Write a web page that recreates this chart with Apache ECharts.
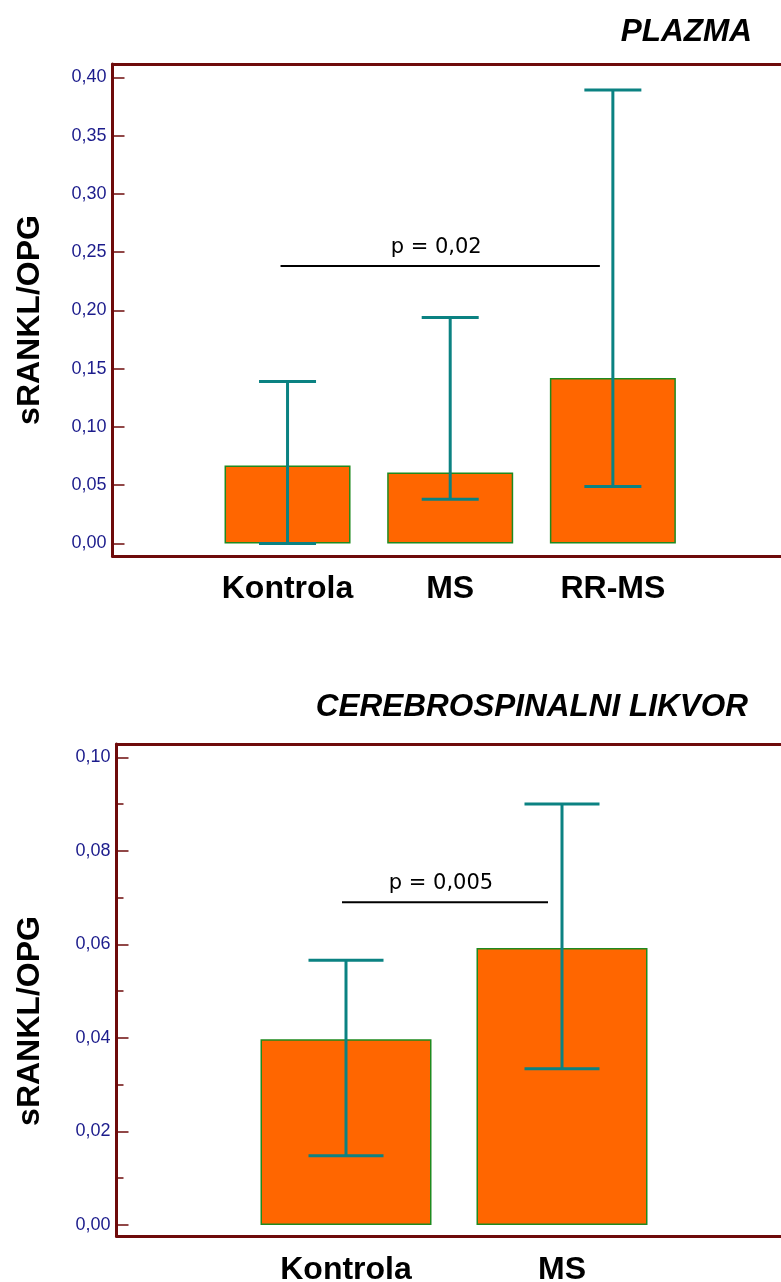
<!DOCTYPE html>
<html>
<head>
<meta charset="utf-8">
<script src="https://cdn.jsdelivr.net/npm/echarts@6/dist/echarts.min.js"></script>
<style>
  html, body { margin: 0; padding: 0; background: #fff; }
  #chart { width: 781px; height: 1282px; }
</style>
</head>
<body>
<div id="chart"></div>
<script>
// PLAZMA
var catsPlazma = ['Kontrola', 'MS', 'RR-MS'];
var meanPlazma = [0.067, 0.061, 0.142];
var lowPlazma = [0.0, 0.038, 0.049];
var highPlazma = [0.139, 0.194, 0.389];
var pPlazma = { from: 0, to: 2, y: 0.238, text: 'p = 0,02' };
var yPlazma = { min: 0, max: 0.4, step: 0.05 };

// CEREBROSPINALNI LIKVOR
var catsLikvor = ['Kontrola', 'MS'];
var meanLikvor = [0.0397, 0.0592];
var lowLikvor = [0.0148, 0.0334];
var highLikvor = [0.0566, 0.090];
var pLikvor = { from: 0, to: 1, y: 0.069, text: 'p = 0,005' };
var yLikvor = { min: 0, max: 0.1, step: 0.02 };

var frameColor = '#6e0b0b';
var teal = '#0b8282';

var chart = echarts.init(document.getElementById('chart'));

function fmt(v) {
    return v.toFixed(2).replace('.', ',');
}

// plain frame axis, only the line
function frameAxis(grid, pos) {
    return {
        type: 'value', gridIndex: grid, position: pos, min: 0, max: 1,
        axisLine: { show: true, lineStyle: { color: frameColor, width: 3 } },
        axisTick: { show: false }, axisLabel: { show: false }, splitLine: { show: false }
    };
}

function catAxis(grid, cats, margin) {
    return {
        type: 'category', gridIndex: grid, data: cats,
        axisLine: { show: false }, axisTick: { show: false }, splitLine: { show: false },
        axisLabel: { interval: 0, hideOverlap: false, margin: margin, color: '#000', fontSize: 32, fontWeight: 'bold', fontFamily: 'Liberation Sans, Arial' }
    };
}

function valAxis(grid, y, offset, minor) {
    return {
        type: 'value', gridIndex: grid, min: y.min, max: y.max, interval: y.step,
        offset: offset,
        axisLine: { show: false },
        axisTick: { show: true, inside: true, length: 12, lineStyle: { color: frameColor, width: 1.5 } },
        minorTick: { show: minor, splitNumber: 2, length: 7, lineStyle: { color: frameColor, width: 1.5 } },
        axisLabel: { formatter: fmt, margin: 6, color: '#1c1c8c', fontSize: 18, fontFamily: 'Liberation Sans, Arial' },
        splitLine: { show: false }
    };
}

function errorSeries(xi, yi, low, high, capW) {
    return {
        type: 'custom', xAxisIndex: xi, yAxisIndex: yi, z: 5,
        data: low.map(function (l, i) { return [i, l, high[i]]; }),
        renderItem: function (params, api) {
            var lo = api.coord([api.value(0), api.value(1)]);
            var hi = api.coord([api.value(0), api.value(2)]);
            var st = { stroke: teal, lineWidth: 3 };
            return {
                type: 'group', children: [
                    { type: 'line', shape: { x1: lo[0], y1: lo[1], x2: hi[0], y2: hi[1] }, style: st },
                    { type: 'line', shape: { x1: hi[0] - capW / 2, y1: hi[1], x2: hi[0] + capW / 2, y2: hi[1] }, style: st },
                    { type: 'line', shape: { x1: lo[0] - capW / 2, y1: lo[1], x2: lo[0] + capW / 2, y2: lo[1] }, style: st }
                ]
            };
        }
    };
}

function pSeries(xi, yi, p, dx1, dx2) {
    return {
        type: 'custom', xAxisIndex: xi, yAxisIndex: yi, z: 6,
        data: [[p.from, p.to, p.y]],
        renderItem: function (params, api) {
            var a = api.coord([api.value(0), api.value(2)]);
            var b = api.coord([api.value(1), api.value(2)]);
            var x1 = a[0] + dx1, x2 = b[0] + dx2;
            return {
                type: 'group', children: [
                    { type: 'line', shape: { x1: x1, y1: a[1], x2: x2, y2: a[1] }, style: { stroke: '#000', lineWidth: 2 } },
                    { type: 'text', x: (x1 + x2) / 2 - 4, y: a[1] - 8,
                      style: { text: p.text, fill: '#000', font: '21px "DejaVu Sans"', align: 'center', verticalAlign: 'bottom' } }
                ]
            };
        }
    };
}

function barSeries(xi, yi, data, w) {
    return {
        type: 'bar', xAxisIndex: xi, yAxisIndex: yi, data: data, barWidth: w, z: 3,
        itemStyle: { color: '#ff6600', borderColor: '#1f8a1f', borderWidth: 1.5 }
    };
}

var option = {
    animation: false,
    backgroundColor: '#fff',
    title: [
        { text: 'PLAZMA', right: 24, top: 11,
          textStyle: { fontSize: 31.5, fontWeight: 'bold', fontStyle: 'italic', color: '#000', fontFamily: 'Liberation Sans, Arial' } },
        { text: 'CEREBROSPINALNI LIKVOR', right: 28, top: 686,
          textStyle: { fontSize: 31.5, fontWeight: 'bold', fontStyle: 'italic', color: '#000', fontFamily: 'Liberation Sans, Arial' } }
    ],
    grid: [
        { left: 112.5, top: 64, width: 700, height: 492, outerBoundsMode: 'none' },
        { left: 206.2, top: 77.3, width: 488, height: 466.2, outerBoundsMode: 'none' },
        { left: 116.5, top: 744, width: 700, height: 492, outerBoundsMode: 'none' },
        { left: 238, top: 757.3, width: 432, height: 467.7, outerBoundsMode: 'none' }
    ],
    xAxis: [
        frameAxis(0, 'bottom'),
        frameAxis(0, 'top'),
        catAxis(1, catsPlazma, 30),
        frameAxis(2, 'bottom'),
        frameAxis(2, 'top'),
        catAxis(3, catsLikvor, 29)
    ],
    yAxis: [
        frameAxis(0, 'left'),
        valAxis(1, yPlazma, 93.7, false),
        frameAxis(2, 'left'),
        valAxis(3, yLikvor, 121.5, true)
    ],
    graphic: [
        { type: 'text', x: 30, y: 320, rotation: Math.PI / 2,
          style: { text: 'sRANKL/OPG', fill: '#000', font: 'bold 32px "Liberation Sans", Arial', align: 'center', verticalAlign: 'middle' } },
        { type: 'text', x: 30, y: 1021, rotation: Math.PI / 2,
          style: { text: 'sRANKL/OPG', fill: '#000', font: 'bold 32px "Liberation Sans", Arial', align: 'center', verticalAlign: 'middle' } }
    ],
    series: [
        barSeries(2, 1, meanPlazma, 126),
        errorSeries(2, 1, lowPlazma, highPlazma, 57),
        pSeries(2, 1, pPlazma, -7, -13),
        barSeries(5, 3, meanLikvor, 171),
        errorSeries(5, 3, lowLikvor, highLikvor, 75),
        pSeries(5, 3, pLikvor, -4, -14)
    ]
};
chart.setOption(option);
</script>
</body>
</html>
